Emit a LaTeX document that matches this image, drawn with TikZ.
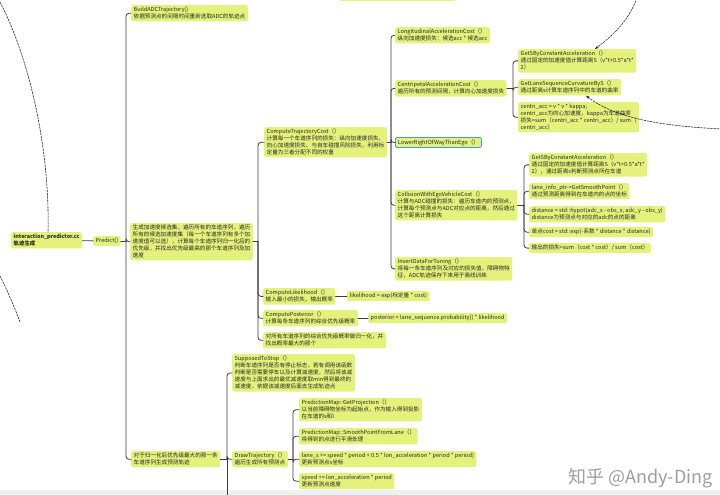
\documentclass[tikz,border=0pt]{standalone}
\usepackage{fontspec}
\newfontfamily\cjk{Noto Sans CJK SC}
\usetikzlibrary{calc, positioning}
\usetikzlibrary{arrows.meta}
\definecolor{topicfill}{HTML}{E4F27C}
\definecolor{linkgray}{HTML}{3C3C3C}
\definecolor{rowblue}{HTML}{3A9FE0}

\begin{document}
\begin{tikzpicture}[x=1pt,y=-1pt,line cap=round,line join=round,
  topic/.style={fill=topicfill,rounded corners=2pt,anchor=north west,align=left,
    inner xsep=2.5pt,inner ysep=2pt,text=black!85,
    font=\cjk\fontsize{5.6}{7}\selectfont},
  link/.style={draw=linkgray,line width=0.8pt,rounded corners=3pt},
  relation/.style={draw=black!85,line width=0.6pt,dash pattern=on 2pt off 1.2pt}]
\useasboundingbox (0,0) rectangle (720,495);
\clip (0,0) rectangle (720,495);

\fill[topicfill] (340,-5) rectangle (455,1.5);
\fill[black!6] (0,490) rectangle (720,495);

% root and Predict()
\node[topic,font=\cjk\bfseries\fontsize{5.4}{7}\selectfont] (root) at (11,232)
  {interaction\_predictor.cc\\轨迹生成};
\node[topic] (predict) at (93,236) {Predict()};
\node[topic] (build) at (131,5)
  {BuildADCTrajectory()\\依据预测点的间隔时间重新选取ADC的轨迹点};
\node[topic] (gen) at (130,223)
  {生成加速度候选集，遍历所有的车道序列，遍历\\所有的候选加速度集（每一个车道序列有多个加\\速度值可以选），计算每个车道序列归一化后的\\优先级，并找出优先级最高的那个车道序列及加\\速度};
\node[topic] (last) at (131,451)
  {对于归一化后优先级最大的那一条\\车道序列生成预测轨迹};

% cost of each lane sequence
\node[topic] (trajcost) at (264,127)
  {ComputeTrajectoryCost（）\\计算每一个车道序列的损失：纵向加速度损失、\\向心加速度损失、与自车碰撞风险损失，利用标\\定量为三者分配不同的权重};
\node[topic] (longacc) at (395,27)
  {LongitudinalAccelerationCost（）\\纵向加速度损失：候选acc * 候选acc};
\node[topic] (centacc) at (395,80)
  {CentripetalAccelerationCost（）\\遍历所有的预测间隔，计算向心加速度损失};
\node[topic,draw=rowblue,line width=0.8pt] (lowerrow) at (395,137)
  {LowerRightOfWayThanEgo（）};
\node[topic] (collision) at (395,190)
  {CollisionWithEgoVehicleCost（）\\计算与ADC碰撞的损失：遍历车道内的预测点，\\计算每个预测点与ADC对应点的距离，然后通过\\这个距离计算损失};
\node[topic] (insert) at (395,257)
  {InsertDataForTuning（）\\将每一条车道序列及对应的损失值，障碍物特\\征，ADC轨迹保存下来用于离线训练};

\node[topic] (getsA) at (518,49)
  {GetSByConstantAcceleration（）\\通过固定的加速度值计算距离S（v*t+0.5*a*t*\\2）};
\node[topic] (curv) at (518,79)
  {GetLaneSequenceCurvatureByS（）\\通过距离s计算车道序列中的车道的曲率};
\node[topic] (centri) at (518,102)
  {centri\_acc = v * v * kappa;\\centri\_acc为向心加速度，kappa为车道曲率\\损失=sum（centri\_acc * centri\_acc）/ sum（\\centri\_acc）};

\node[topic] (getsB) at (529,153)
  {GetSByConstantAcceleration（）\\通过固定的加速度值计算距离S（v*t+0.5*a*t*\\2），通过距离s判断预测点所在车道};
\node[topic] (smooth) at (529,183)
  {lane\_info\_ptr->GetSmoothPoint（）\\通过预测距离得到在车道内的点的坐标};
\node[topic] (dist) at (529,206)
  {distance = std::hypot(adc\_x - obs\_x, adc\_y - obs\_y)\\distance为预测点与对应的adc的点的距离};
\node[topic] (single) at (529,227)
  {单点cost = std::exp(-系数 * distance * distance)};
\node[topic] (outcost) at (529,243)
  {输出的损失=sum（cost * cost）/ sum（cost）};

% probabilities
\node[topic] (likelihood) at (263,288)
  {ComputeLikelihood（）\\输入最小的损失，输出概率};
\node[topic] (likeform) at (347,291) {likelihood = exp(标定量 * cost)};
\node[topic] (posterior) at (263,310)
  {ComputePosterior（）\\计算每条车道序列的综合优先级概率};
\node[topic] (postform) at (368,313)
  {posterior = lane\_sequence.probability() * likelihood};
\node[topic] (normall) at (263,332)
  {对所有车道序列的综合优先级概率做归一化，并\\找出概率最大的那个};

% trajectory drawing
\node[topic] (stop) at (232,354)
  {SupposedToStop（）\\判断车道序列是否有停止标志，若有调用该函数\\判断是否需要停车以及计算减速度，然后将该减\\速度与上面求出的最优减速度取min得到最终的\\减速度，依据该减速度后面去生成轨迹点};
\node[topic] (drawtraj) at (232,451)
  {DrawTrajectory（）\\遍历生成所有预测点};
\node[topic] (proj) at (299,398)
  {PredictionMap::GetProjection（）\\以当前障碍物坐标为起始点，作为输入得到投影\\在车道的s和l};
\node[topic] (smoothlane) at (299,428)
  {PredictionMap::SmoothPointFromLane（）\\将得到的点进行平滑处理};
\node[topic] (lanes) at (299,451)
  {lane\_s += speed * period + 0.5 * lon\_acceleration * period * period)\\更新预测点s坐标};
\node[topic] (speed) at (299,473)
  {speed += lon\_acceleration * period\\更新预测点速度};

% connectors
\coordinate (tPredict) at (predict.east -| 126,0);
\coordinate (tGen) at (gen.east -| 258,0);
\coordinate (tTraj) at (trajcost.east -| 391,0);
\coordinate (tCent) at (centacc.east -| 513,0);
\coordinate (tColl) at (collision.east -| 524,0);
\coordinate (tLast) at (last.east -| 227,0);
\coordinate (tDraw) at (drawtraj.east -| 293,0);
\coordinate (lastEnd) at (227,500);

\draw[link] (root) -- (predict);
\draw[link] (predict.east) -- (tPredict);
\foreach \c in {build,gen,last} \draw[link] (tPredict) |- (\c.west);
\draw[link] (gen.east) -- (tGen);
\foreach \c in {trajcost,likelihood,posterior,normall} \draw[link] (tGen) |- (\c.west);
\draw[link] (trajcost.east) -- (tTraj);
\foreach \c in {longacc,centacc,lowerrow,collision,insert} \draw[link] (tTraj) |- (\c.west);
\draw[link] (centacc.east) -- (tCent);
\foreach \c in {getsA,curv,centri} \draw[link] (tCent) |- (\c.west);
\draw[link] (collision.east) -- (tColl);
\foreach \c in {getsB,smooth,dist,single,outcost} \draw[link] (tColl) |- (\c.west);
\draw[link] (likelihood.east) -- (likelihood.east -| likeform.west);
\draw[link] (posterior.east) -- (posterior.east -| postform.west);
\draw[link] (last.east) -- (tLast);
\draw[link] (tLast) -- (lastEnd);
\foreach \c in {stop,drawtraj} \draw[link] (tLast) |- (\c.west);
\draw[link] (drawtraj.east) -- (tDraw);
\foreach \c in {proj,smoothlane,lanes,speed} \draw[link] (tDraw) |- (\c.west);

% relations
\draw[relation] (0,2) .. controls (30,60) and (50,150) .. (root.north -| 48,0);
\draw[relation] (0,276) .. controls (8,292) and (14,306) .. (20,322);
\draw[relation,-{Stealth[length=4pt,width=3pt]}] (637,-2) .. controls (628,22) and (612,36) .. (getsA.north -| 595,0);
\draw[relation,-{Stealth[length=4pt,width=3pt]}] (722,129) .. controls (660,126) and (615,118) .. (curv.south -| 586,0);

\node[font=\cjk\fontsize{18}{18}\selectfont,text=black!38,anchor=east] (mark) at (716,478)
  {知乎 @Andy-Ding};
\end{tikzpicture}
\end{document}
